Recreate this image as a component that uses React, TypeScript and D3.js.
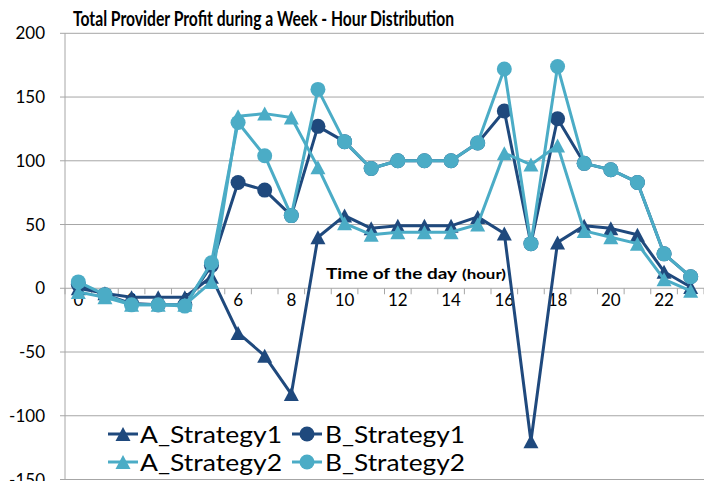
import React from "react";
import * as d3 from "d3";

// hours of the day
const hours = [0, 1, 2, 3, 4, 5, 6, 7, 8, 9, 10, 11, 12, 13, 14, 15, 16, 17, 18, 19, 20, 21, 22, 23];
const xTickLabels = [0, 2, 4, 6, 8, 10, 12, 14, 16, 18, 20, 22];
const yTicks = [200, 150, 100, 50, 0, -50, -100, -150];

const aStrategy1 = [0, -4, -7, -7, -7, 9, -35, -53, -83, 40, 57, 47, 49, 49, 49, 56, 43, -120, 36, 49, 47, 42, 13, 1];
const bStrategy1 = [3, -5, -12, -13, -13, 18, 83, 77, 57, 127, 115, 94, 100, 100, 100, 114, 139, 35, 133, 98, 93, 83, 27, 9];
const aStrategy2 = [-3, -7, -13, -13, -13, 5, 135, 137, 134, 95, 51, 42, 44, 44, 44, 50, 106, 97, 112, 45, 40, 35, 7, -2];
const bStrategy2 = [5, -5, -13, -13, -14, 20, 130, 104, 57, 156, 115, 94, 100, 100, 100, 114, 172, 35, 174, 98, 93, 83, 27, 9];

const DARK = "#1f497d";
const LIGHT = "#4bacc6";
const FONT = "Lato, 'Open Sans', sans-serif";

const series = [
  { name: "A_Strategy1", values: aStrategy1, color: DARK, marker: "triangle" },
  { name: "B_Strategy1", values: bStrategy1, color: DARK, marker: "circle" },
  { name: "A_Strategy2", values: aStrategy2, color: LIGHT, marker: "triangle" },
  { name: "B_Strategy2", values: bStrategy2, color: LIGHT, marker: "circle" },
];

const width = 704;
const height = 481;
const margin = { left: 65, right: 0, top: 33.3, bottom: 1.5 };

function Marker({ type, x, y, color }: { type: string; x: number; y: number; color: string }) {
  if (type === "circle") return <circle cx={x} cy={y} r={7.5} fill={color} />;
  const w = 15, h = 14;
  return <path d={`M${x},${y - h / 2}L${x + w / 2},${y + h / 2}L${x - w / 2},${y + h / 2}Z`} fill={color} />;
}

export default function App() {
  const x = d3.scaleBand<number>().domain(hours).range([margin.left, width - margin.right]).padding(0);
  const y = d3.scaleLinear().domain([-150, 200]).range([height - margin.bottom, margin.top]);
  const cx = (h: number) => (x(h) as number) + x.bandwidth() / 2;

  const line = d3.line<number>().x((_, i) => cx(hours[i])).y((d) => y(d));

  const bandEdges = hours.map((h) => x(h) as number).concat([width - margin.right]);

  return (
    <svg width={width} height={height} style={{ position: "absolute", left: 0, top: 0, background: "#fff" }}>
      {/* gridlines */}
      {yTicks.map((t) => (
        <g key={t}>
          <line x1={margin.left - 5} x2={width} y1={y(t)} y2={y(t)} stroke="#a6a6a6" strokeWidth={1} />
          <text x={45} y={y(t)} dy="0.36em" textAnchor="end" fontFamily={FONT} fontSize={17} fill="#000">
            {t}
          </text>
        </g>
      ))}
      {/* y axis */}
      <line x1={margin.left} x2={margin.left} y1={margin.top} y2={height - margin.bottom} stroke="#a6a6a6" />
      {/* x axis ticks at zero */}
      {bandEdges.map((e, i) => (
        <line key={i} x1={e} x2={e} y1={y(0)} y2={y(0) + 6} stroke="#a6a6a6" />
      ))}
      {xTickLabels.map((h) => (
        <text key={h} x={cx(h)} y={y(0) + 18} textAnchor="middle" fontFamily={FONT} fontSize={17} fill="#000">
          {h}
        </text>
      ))}
      <text x={326} y={279} fontFamily={FONT} fontWeight="bold" fontSize={16} fill="#000">
        <tspan textLength={131} lengthAdjust="spacingAndGlyphs">Time of the day</tspan>
        <tspan dx={5} fontSize={13} textLength={44} lengthAdjust="spacingAndGlyphs">(hour)</tspan>
      </text>

      {/* series */}
      {series.map((s) => (
        <g key={s.name}>
          <path d={line(s.values) as string} fill="none" stroke={s.color} strokeWidth={3} strokeLinejoin="round" />
          {s.values.map((v, i) => (
            <Marker key={i} type={s.marker} x={cx(hours[i])} y={y(v)} color={s.color} />
          ))}
        </g>
      ))}

      {/* title */}
      <text x={73} y={26} fontFamily={FONT} fontWeight="bold" fontSize={20} fill="#000" textLength={381} lengthAdjust="spacingAndGlyphs">
        Total Provider Profit during a Week - Hour Distribution
      </text>

      {/* legend */}
      <rect x={100} y={419} width={372} height={58} fill="#fff" />
      {series.map((s, i) => {
        const col = i % 2;
        const row = Math.floor(i / 2);
        const mx = col === 0 ? 123 : 307;
        const tx = col === 0 ? 140 : 325;
        const ty = row === 0 ? 434 : 462;
        return (
          <g key={s.name}>
            <line x1={mx - 15} x2={mx + 15} y1={ty} y2={ty} stroke={s.color} strokeWidth={3} />
            <Marker type={s.marker} x={mx} y={ty} color={s.color} />
            <text x={tx} y={ty} dy="0.36em" fontFamily={FONT} fontSize={24} fill="#000" textLength={col === 0 ? 142 : 140} lengthAdjust="spacingAndGlyphs">
              {s.name}
            </text>
          </g>
        );
      })}
    </svg>
  );
}
